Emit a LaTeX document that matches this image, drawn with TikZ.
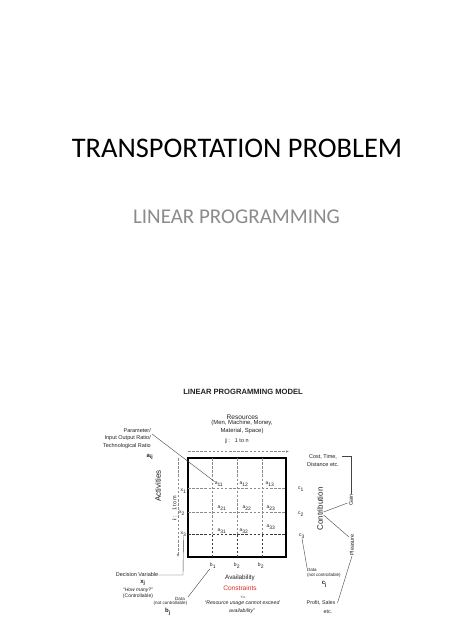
\documentclass[tikz,border=0pt]{standalone}
\usepackage{fontspec}
\setmainfont{Liberation Sans}
\newfontfamily\calibri{Carlito}
\usetikzlibrary{arrows.meta}
\definecolor{txt}{HTML}{222222}
\definecolor{subgray}{HTML}{8C8C8C}
\definecolor{redc}{HTML}{E02828}
\definecolor{dashgray}{HTML}{8A8A8A}
\definecolor{dashdark}{HTML}{3A3A3A}
\definecolor{linegray}{HTML}{444444}
\begin{document}
\begin{tikzpicture}[x=1pt,y=-1pt,
  tx/.style={inner sep=0pt, text=txt, font=\fontsize{5}{5}\selectfont},
  sm/.style={inner sep=0pt, text=txt, align=center, font=\fontsize{5.5}{7.5}\selectfont},
  tiny/.style={inner sep=0pt, text=txt, align=center, font=\fontsize{4.5}{5.5}\selectfont},
  big/.style={inner sep=0pt, text=txt, font=\fontsize{8}{8}\selectfont},
  bvar/.style={inner sep=0pt, text=txt, font=\bfseries\fontsize{6}{6}\selectfont},
  gridline/.style={draw=dashgray, dash pattern=on 2.5pt off 1.6pt, line width=0.5pt},
  gridlow/.style={draw=dashdark, dash pattern=on 2.5pt off 1.6pt, line width=0.6pt},
  conn/.style={draw=linegray, line width=0.4pt},
  tip/.style={-{Latex[length=3pt,width=2.6pt]}}
]
\fill[white] (0,0) rectangle (474,632);
\path[use as bounding box] (0,0) rectangle (474,632);

% titles
\node[anchor=base, inner sep=0pt, font=\calibri\fontsize{28.4}{30}\selectfont] (title) at (237,157) {TRANSPORTATION PROBLEM};
\node[anchor=base, inner sep=0pt, text=subgray, font=\calibri\fontsize{21}{24}\selectfont] (subtitle) at (236.5,223) {LINEAR PROGRAMMING};

% model heading
\node[anchor=base, inner sep=0pt, text=txt, font=\bfseries\fontsize{7.6}{8}\selectfont] (mtitle) at (243,394.5) {LINEAR PROGRAMMING MODEL};
\node[inner sep=0pt, text=txt, font=\fontsize{6.6}{7}\selectfont] (res) at (242.5,417) {Resources};
\node[sm, font=\fontsize{5.9}{8}\selectfont] (resd) at (242,427) {(Men, Machine, Money,\\Material, Space)};
\node[tx, font=\fontsize{5.5}{6}\selectfont] (jl) at (237,441) {\textbf{j}\ :\hspace{5pt}1 to n};

% matrix box
\node[draw=black, line width=1.2pt, minimum width=98pt, minimum height=99pt, inner sep=0pt] (box) at (237,507.5) {};
\foreach \xx in {212,237,262} {
  \draw[gridline] (\xx,458) -- (\xx,534.5);
  \draw[gridlow] (\xx,534.5) -- (\xx,557);
}
\foreach \yy in {488,512} \draw[gridline] (188,\yy) -- (286,\yy);
\draw[gridlow] (188,534.5) -- (286,534.5);
\coordinate (topA) at (188,451.5);
\coordinate (topB) at (289,451.5);
\draw[gridline, tip] (topA) -- (topB);
\coordinate (leftA) at (178,458);
\coordinate (leftB) at (178,557);
\draw[gridline, tip] (leftA) -- (leftB);
\node[tx, rotate=90, font=\fontsize{5.5}{6}\selectfont] (il) at (174.5,508) {\textbf{i}\ :\hspace{5pt}1 to m};
\node[big, rotate=90] (act) at (158,486) {Activities};

% a entries
\node[tx] (a11) at (219,484) {a\textsubscript{11}};
\node[tx] (a12) at (244,484) {a\textsubscript{12}};
\node[tx] (a13) at (270,484) {a\textsubscript{13}};
\node[tx] (a21) at (222,508) {a\textsubscript{21}};
\node[tx] (a22) at (247,508) {a\textsubscript{22}};
\node[tx] (a23) at (271,508) {a\textsubscript{23}};
\node[tx] (a31) at (222,531) {a\textsubscript{31}};
\node[tx] (a32) at (244,531) {a\textsubscript{32}};
\node[tx] (a33) at (271,527) {a\textsubscript{33}};

% x, c, b labels
\node[tx] (x1) at (183.5,491.5) {x\textsubscript{1}};
\node[tx] (x2) at (182,513) {x\textsubscript{2}};
\node[tx] (x3) at (183.5,534) {x\textsubscript{3}};
\node[tx] (c1) at (301,489) {c\textsubscript{1}};
\node[tx] (c2) at (301,514) {c\textsubscript{2}};
\node[tx] (c3) at (302,536) {c\textsubscript{3}};
\node[tx] (b1) at (213,566) {b\textsubscript{1}};
\node[tx] (b2) at (237,566) {b\textsubscript{2}};
\node[tx] (b3) at (261,566) {b\textsubscript{2}};

% parameter block
\node[sm, align=right, anchor=north east] (param) at (151,428) {Parameter/\\Input Output Ratio/\\Technological Ratio};
\node[bvar] (aij) at (150,457) {a\textsubscript{ij}};
\coordinate (pstart) at (152,434);
\draw[conn] (pstart) -- (a11.north west);

% right side
\node[sm] (cost) at (323,460.5) {Cost, Time,\\Distance etc.};
\node[big, rotate=90] (contr) at (320,509) {Contribution};
\node[sm, rotate=90] (gain) at (351,500) {Gain};
\node[sm, rotate=90] (pleas) at (352,545) {Pleasure};
\coordinate (costR) at (342,456.5);
\coordinate (brk) at (351,456.5);
\draw[conn] (costR) -- (brk) -- (gain.east);
\coordinate (cg) at (323.5,512);
\coordinate (gEnd) at (347.5,503);
\draw[conn] (cg) -- (gEnd);
\coordinate (cp) at (323.5,515);
\coordinate (pEnd) at (349,537);
\draw[conn] (cp) -- (pEnd);
\node[sm, font=\fontsize{5.3}{6}\selectfont] (profit) at (321,603) {Profit, Sales};
\node[sm, font=\fontsize{5.3}{6}\selectfont] (etc) at (328,612) {etc.};
\draw[conn] (pleas.west) -- ([xshift=2pt]profit.east);

\node[tiny, anchor=west] (dataR) at (307,569.5) {Data};
\node[tiny, anchor=west] (ncR) at (307,575) {(not controllable)};
\node[bvar] (cj) at (324.5,584.5) {c\textsubscript{j}};
\draw[conn] (c3.south) -- (dataR.north west);

% bottom centre
\node[inner sep=0pt, text=txt, font=\fontsize{6.3}{7}\selectfont] (avail) at (240,578) {Availability};
\node[inner sep=0pt, text=redc, font=\fontsize{6.6}{7}\selectfont] (cons) at (240,588) {Constraints};
\node[tiny, font=\fontsize{4}{4}\selectfont] (le) at (243,597) {<=};
\node[sm, font=\itshape\fontsize{5.2}{8}\selectfont] (usage) at (242,607) {``Resource usage cannot exceed\\availability''};

% bottom left
\node[sm] (decvar) at (137,575) {Decision Variable};
\node[bvar] (xj) at (143,583) {x\textsubscript{j}};
\node[sm, font=\itshape\fontsize{5}{6}\selectfont] (howmany) at (138,590.5) {``How many?''};
\node[sm, font=\fontsize{5}{6}\selectfont] (ctrl) at (138,596.5) {(Controllable)};
\coordinate (dvc) at (183,575);
\draw[conn] (x3.south) -- (dvc) -- (decvar.east);

\node[tiny] (dataL) at (180,599) {Data};
\node[tiny] (ncL) at (170.5,603.5) {(not controllable)};
\node[bvar] (bj) at (168,612) {b\textsubscript{j}};
\coordinate (bline) at (188,597);
\draw[conn] (b1.south west) -- (bline);
\end{tikzpicture}
\end{document}
